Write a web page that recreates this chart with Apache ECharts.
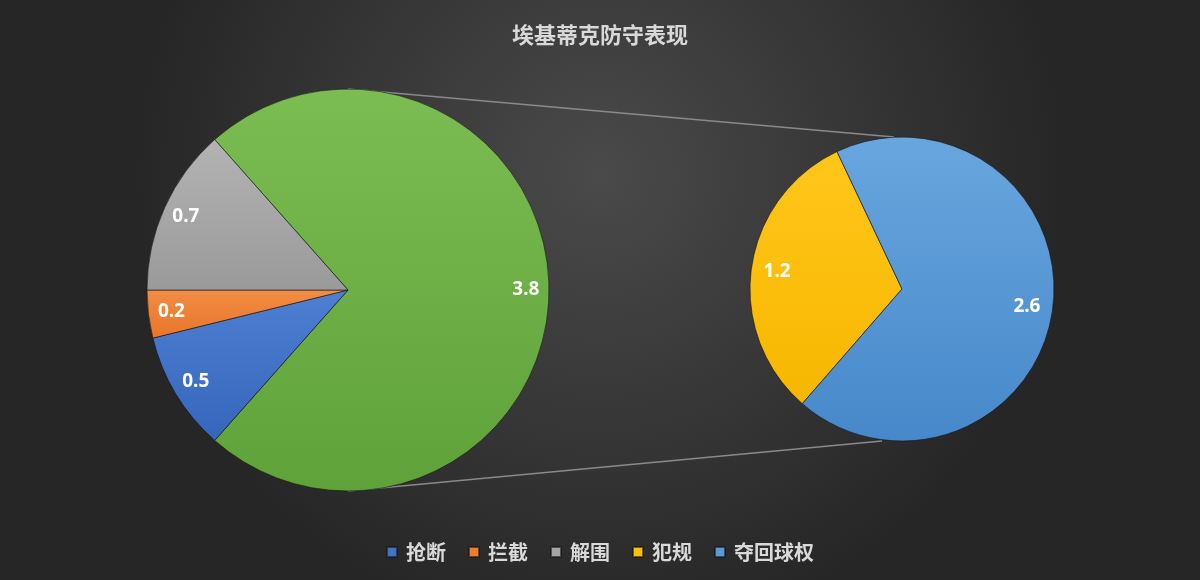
<!DOCTYPE html>
<html>
<head>
<meta charset="utf-8">
<script src="https://cdn.jsdelivr.net/npm/echarts@6/dist/echarts.min.js"></script>
<style>
html, body { margin: 0; padding: 0; }
#main { width: 1200px; height: 580px; }
</style>
</head>
<body>
<div id="main"></div>
<script>
// 数据
var titleText = '埃基蒂克防守表现';
var leftNames = ['抢断', '拦截', '解围'];
var leftValues = [0.5, 0.2, 0.7];
var otherName = '其他';
var otherValue = 3.8;
var rightNames = ['犯规', '夺回球权'];
var rightValues = [1.2, 2.6];
var legendNames = ['抢断', '拦截', '解围', '犯规', '夺回球权'];

// 布局
var leftC = [348, 290], leftR = 201;
var rightC = [902, 289], rightR = 152;

function grad(top, bottom) {
    return new echarts.graphic.LinearGradient(0, 0, 0, 1, [
        { offset: 0, color: top },
        { offset: 1, color: bottom }
    ]);
}

var colors = {
    '其他': grad('#7bbd52', '#5fa23a'),
    '抢断': grad('#4d7fd2', '#3566bb'),
    '拦截': grad('#f28c45', '#e8762a'),
    '解围': grad('#b3b3b3', '#9a9a9a'),
    '犯规': grad('#ffc61a', '#f7b700'),
    '夺回球权': grad('#68a6de', '#4788ca')
};
var legendColors = {
    '抢断': '#4472c4', '拦截': '#ed7d31', '解围': '#a5a5a5',
    '犯规': '#ffc000', '夺回球权': '#5b9bd5'
};

var leftData = [{ name: otherName, value: otherValue, itemStyle: { color: colors[otherName] } }];
leftNames.forEach(function (n, i) {
    leftData.push({ name: n, value: leftValues[i], itemStyle: { color: colors[n] } });
});
var rightData = rightNames.map(function (n, i) {
    return { name: n, value: rightValues[i], itemStyle: { color: colors[n] } };
});

var leftTotal = otherValue + leftValues.reduce(function (a, b) { return a + b; }, 0);
var leftStart = 180 * otherValue / leftTotal;
var rightStart = 229;

var labelStyle = {
    show: true,
    position: 'inside',
    formatter: '{c}',
    color: '#ffffff',
    fontSize: 19,
    fontWeight: 'bold',
    fontFamily: 'Noto Sans'
};

function ghost(data) {
    return data.map(function (d) {
        return { name: d.name, value: d.value, itemStyle: { color: 'rgba(0,0,0,0)' } };
    });
}

var myChart = echarts.init(document.getElementById('main'));
var option = {
    backgroundColor: new echarts.graphic.RadialGradient(0.5, 0.3, 0.8, [
        { offset: 0, color: '#4a4a4a' },
        { offset: 1, color: '#262626' }
    ]),
    title: {
        text: titleText,
        left: 'center',
        top: 19,
        textStyle: {
            color: '#d9d9d9',
            fontSize: 22,
            fontWeight: 'bold',
            fontFamily: 'Noto Sans CJK SC'
        }
    },
    legend: {
        data: legendNames.map(function (n) {
            return { name: n, itemStyle: { color: legendColors[n] } };
        }),
        bottom: 13,
        left: 'center',
        icon: 'rect',
        itemWidth: 10,
        itemHeight: 10,
        itemGap: 22,
        textStyle: {
            color: '#d9d9d9',
            fontSize: 20,
            fontWeight: 'bold',
            fontFamily: 'Noto Sans CJK SC',
            padding: [0, 0, 0, 4]
        }
    },
    graphic: {
        elements: [{
            type: 'line',
            z: -1,
            silent: true,
            shape: { x1: leftC[0], y1: leftC[1] - leftR, x2: rightC[0] - 8, y2: rightC[1] - rightR },
            style: { stroke: '#8a8a8a', lineWidth: 1.5 }
        }, {
            type: 'line',
            z: -1,
            silent: true,
            shape: { x1: leftC[0], y1: leftC[1] + leftR, x2: rightC[0] - 20, y2: rightC[1] + rightR },
            style: { stroke: '#8a8a8a', lineWidth: 1.5 }
        }]
    },
    series: [{
        name: '左',
        type: 'pie',
        center: leftC,
        radius: [0, leftR],
        startAngle: leftStart,
        clockwise: true,
        animation: false,
        silent: true,
        itemStyle: { borderColor: 'rgba(20,20,20,0.6)', borderWidth: 1 },
        label: { show: false },
        labelLine: { show: false },
        data: leftData
    }, {
        name: '右',
        type: 'pie',
        center: rightC,
        radius: [0, rightR],
        startAngle: rightStart,
        clockwise: true,
        animation: false,
        silent: true,
        itemStyle: { borderColor: 'rgba(20,20,20,0.6)', borderWidth: 1 },
        label: { show: false },
        labelLine: { show: false },
        data: rightData
    }, {
        name: '左标签',
        type: 'pie',
        center: leftC,
        radius: [leftR * 0.74, leftR],
        startAngle: leftStart,
        clockwise: true,
        animation: false,
        silent: true,
        label: labelStyle,
        labelLine: { show: false },
        data: ghost(leftData)
    }, {
        name: '右标签',
        type: 'pie',
        center: rightC,
        radius: [rightR * 0.62, rightR],
        startAngle: rightStart,
        clockwise: true,
        animation: false,
        silent: true,
        label: labelStyle,
        labelLine: { show: false },
        data: ghost(rightData)
    }]
};
myChart.setOption(option);
</script>
</body>
</html>
